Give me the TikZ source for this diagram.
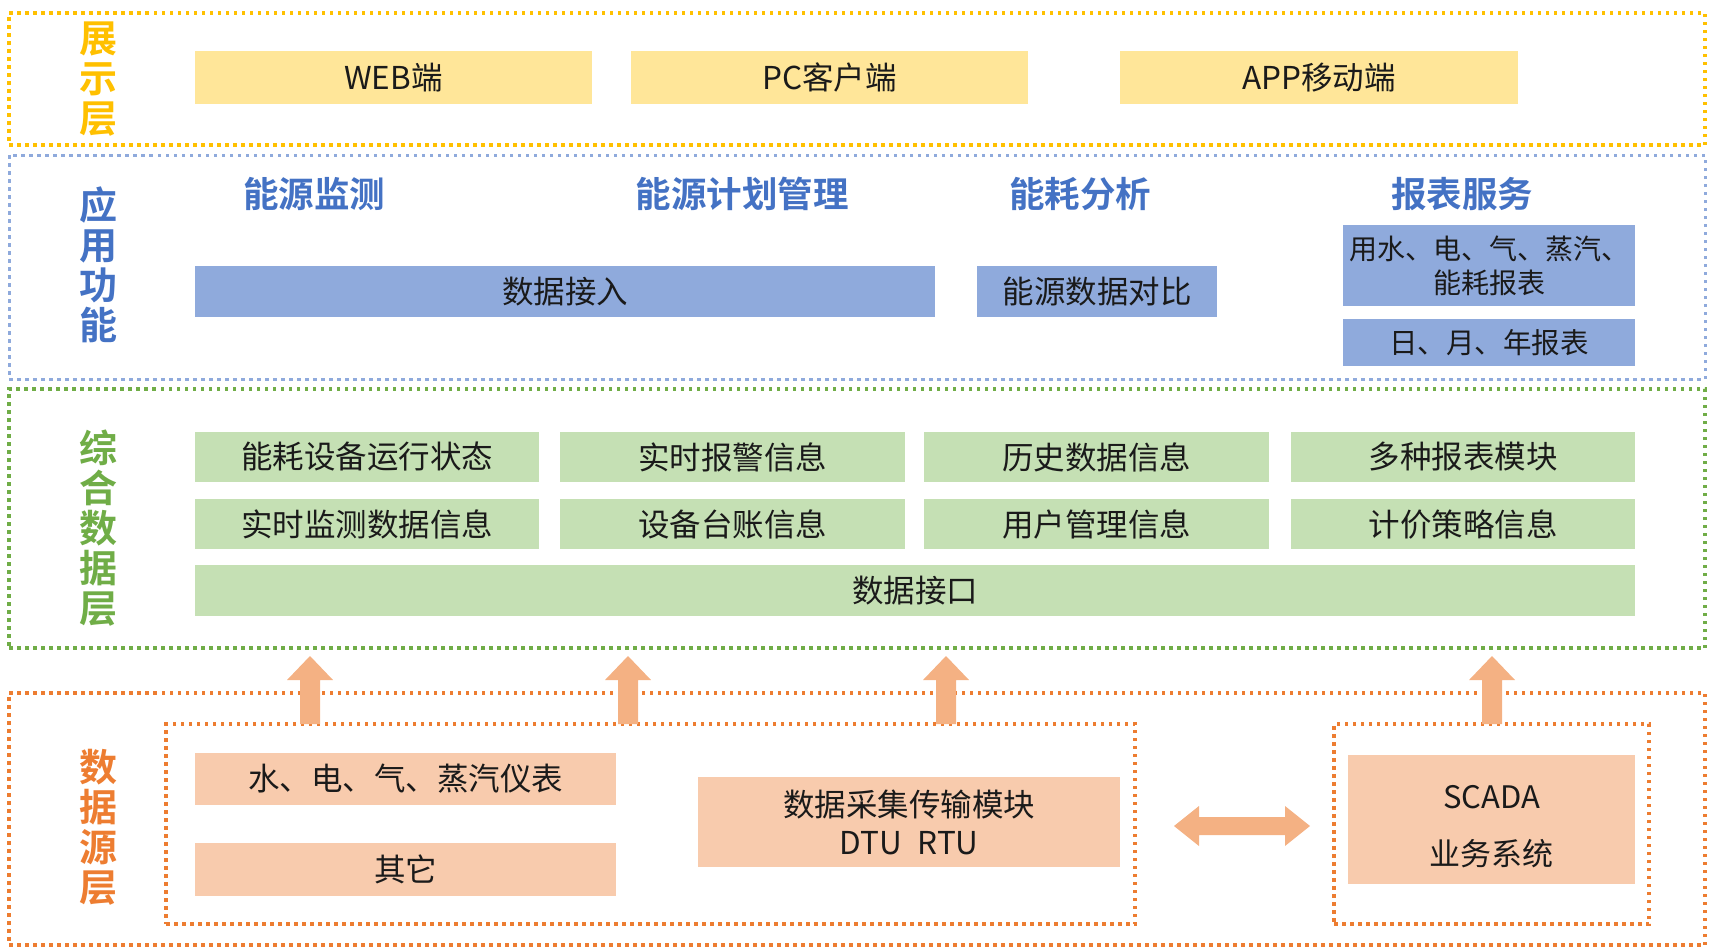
\documentclass[tikz,border=0pt]{standalone}
\usepackage{fontspec}
\setmainfont{Noto Sans CJK SC}
\newfontfamily\cjkb{Noto Sans CJK SC Bold}
\definecolor{yline}{HTML}{FFC000}
\definecolor{yfill}{HTML}{FFE699}
\definecolor{bline}{HTML}{8FAADC}
\definecolor{bfill}{HTML}{8FAADC}
\definecolor{btext}{HTML}{4472C4}
\definecolor{gline}{HTML}{70AD47}
\definecolor{gfill}{HTML}{C5E0B4}
\definecolor{oline}{HTML}{ED7D31}
\definecolor{ofill}{HTML}{F8CBAD}
\definecolor{oarrow}{HTML}{F4B183}
\definecolor{ink}{HTML}{1A1A1A}
\tikzset{
  layer/.style={draw=#1, line width=3.5pt, dash pattern=on 3.5pt off 4.5pt, rectangle, inner sep=0pt},
  cell/.style={fill=#1, draw=none, rectangle, inner sep=0pt, text=ink, font=\fontsize{31.5}{36}\selectfont, align=center},
  lab/.style={text=#1, font=\cjkb\fontsize{38}{40}\selectfont, align=center, inner sep=0pt},
  head/.style={text=btext, font=\cjkb\fontsize{35.5}{40}\selectfont, inner sep=0pt},
  blk/.style={fill=oarrow, draw=none},
}
\begin{document}
\begin{tikzpicture}[x=1pt,y=-1pt]
\useasboundingbox (0,0) rectangle (1715,951);
% layer frames
\node[layer=yline, minimum width=1696pt, minimum height=132pt] (Ly) at (857,79) {};
\node[layer=bline, line width=3pt, minimum width=1696pt, minimum height=224pt] (Lb) at (857,267) {};
\node[layer=gline, minimum width=1696pt, minimum height=259pt] (Lg) at (857,518.5) {};
\node[layer=oline, minimum width=1696pt, minimum height=252pt] (Lo) at (857,819) {};
\node[layer=oline, minimum width=969pt, minimum height=200pt] (In1) at (650.5,824) {};
\node[layer=oline, minimum width=315pt, minimum height=200pt] (In2) at (1491.5,824) {};
% layer labels
\node[lab=yline] (ly) at (98,79) {展\\示\\层};
\node[lab=btext] (lb) at (98,265) {应\\用\\功\\能};
\node[lab=gline] (lg) at (98,528) {综\\合\\数\\据\\层};
\node[lab=oline] (lo) at (98,827) {数\\据\\源\\层};
% presentation
\node[cell=yfill, minimum width=397pt, minimum height=53pt] (web) at (393.5,77.5) {WEB端};
\node[cell=yfill, minimum width=397pt, minimum height=53pt] (pc) at (829.5,77.5) {PC客户端};
\node[cell=yfill, minimum width=398pt, minimum height=53pt] (app) at (1319,77.5) {APP移动端};
% application
\node[head] (h1) at (314,194) {能源监测};
\node[head] (h2) at (742,194) {能源计划管理};
\node[head] (h3) at (1080,194) {能耗分析};
\node[head] (h4) at (1462,194) {报表服务};
\node[cell=bfill, minimum width=740pt, minimum height=51pt] (jr) at (565,291.5) {数据接入};
\node[cell=bfill, minimum width=240pt, minimum height=51pt] (db) at (1097,291.5) {能源数据对比};
\node[cell=bfill, minimum width=292pt, minimum height=81pt, font=\fontsize{28}{34}\selectfont] (ys) at (1489,265.5) {用水、电、气、蒸汽、\\能耗报表};
\node[cell=bfill, minimum width=292pt, minimum height=47pt, font=\fontsize{28.5}{34}\selectfont] (rb) at (1489,342.5) {日、月、年报表};
% data layer
\node[cell=gfill, minimum width=344pt, minimum height=50pt] (g11) at (367,457) {能耗设备运行状态};
\node[cell=gfill, minimum width=345pt, minimum height=50pt] (g12) at (732.5,457) {实时报警信息};
\node[cell=gfill, minimum width=345pt, minimum height=50pt] (g13) at (1096.5,457) {历史数据信息};
\node[cell=gfill, minimum width=344pt, minimum height=50pt] (g14) at (1463,457) {多种报表模块};
\node[cell=gfill, minimum width=344pt, minimum height=50pt] (g21) at (367,524) {实时监测数据信息};
\node[cell=gfill, minimum width=345pt, minimum height=50pt] (g22) at (732.5,524) {设备台账信息};
\node[cell=gfill, minimum width=345pt, minimum height=50pt] (g23) at (1096.5,524) {用户管理信息};
\node[cell=gfill, minimum width=344pt, minimum height=50pt] (g24) at (1463,524) {计价策略信息};
\node[cell=gfill, minimum width=1440pt, minimum height=51pt] (jk) at (915,590.5) {数据接口};
% source layer
\node[cell=ofill, minimum width=421pt, minimum height=52pt] (sd) at (405.5,779) {水、电、气、蒸汽仪表};
\node[cell=ofill, minimum width=421pt, minimum height=53pt] (qt) at (405.5,869.5) {其它};
\node[cell=ofill, minimum width=422pt, minimum height=90pt, font=\fontsize{31.5}{38}\selectfont] (cj) at (909,822) {数据采集传输模块\\DTU\enspace RTU};
\node[cell=ofill, minimum width=287pt, minimum height=129pt] (sc) at (1491.5,819.5) {};
\node[text=ink, font=\fontsize{31}{36}\selectfont, align=center, inner sep=0pt] (sct) at (1491.5,827) {SCADA\\[21pt]业务系统};
% up arrows (block arrows from source frames to data layer)
\foreach \n/\x in {a1/310,a2/628,a3/946,a4/1492}{
  \coordinate (\n s) at (\x,724);
  \coordinate (\n t) at (\x,656);
  \fill[blk] ([xshift=-10pt]\n s) -- ([xshift=-10pt,yshift=44pt]\n s) -- ([xshift=-23pt,yshift=44pt]\n s)
     -- (\n t) -- ([xshift=23pt,yshift=44pt]\n s) -- ([xshift=10pt,yshift=44pt]\n s) -- ([xshift=10pt]\n s) -- cycle;
}
% double arrow between In1 and In2
\coordinate (dl) at (1174,826);
\coordinate (dr) at (1310,826);
\fill[blk] (dl) -- ([xshift=25pt,yshift=20pt]dl) -- ([xshift=25pt,yshift=9pt]dl) -- ([xshift=-25pt,yshift=9pt]dr)
  -- ([xshift=-25pt,yshift=20pt]dr) -- (dr) -- ([xshift=-25pt,yshift=-20pt]dr) -- ([xshift=-25pt,yshift=-9pt]dr)
  -- ([xshift=25pt,yshift=-9pt]dl) -- ([xshift=25pt,yshift=-20pt]dl) -- cycle;
\end{tikzpicture}
\end{document}
